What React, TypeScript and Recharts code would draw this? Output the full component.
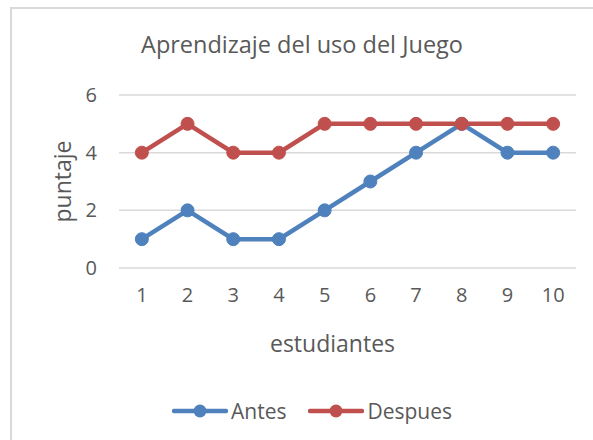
import { LineChart, Line, XAxis, YAxis, CartesianGrid, Legend, Label } from 'recharts'

// Students on the x axis, score before and after the game
const students = [1, 2, 3, 4, 5, 6, 7, 8, 9, 10]
const antes = [1, 2, 1, 1, 2, 3, 4, 5, 4, 4]
const despues = [4, 5, 4, 4, 5, 5, 5, 5, 5, 5]
const yTicks = [0, 2, 4, 6]

const data = students.map((s, i) => ({ student: s, antes: antes[i], despues: despues[i] }))

const BLUE = '#4f81bd'
const RED = '#c0504d'
const TEXT = '#595959'
const FONT = '"Open Sans", sans-serif'

const series = [
  { name: 'Antes', color: BLUE },
  { name: 'Despues', color: RED },
]

function LegendContent() {
  return (
    <div style={{ display: 'flex', alignItems: 'center', fontFamily: FONT, fontSize: 21, color: TEXT }}>
      {series.map((s, i) => (
        <div key={s.name} style={{ display: 'flex', alignItems: 'center', marginLeft: i ? 22 : 0 }}>
          <svg width={56} height={16} style={{ marginRight: 3 }}>
            <line x1={2} y1={8} x2={54} y2={8} stroke={s.color} strokeWidth={4.5} strokeLinecap="round" />
            <circle cx={28} cy={8} r={6.5} fill={s.color} />
          </svg>
          <span>{s.name}</span>
        </div>
      ))}
    </div>
  )
}

export default function App() {
  return (
    <div style={{ position: 'absolute', left: 0, top: 0, width: 593, height: 440, background: '#fff', overflow: 'hidden' }}>
      <div
        style={{
          position: 'absolute',
          left: 10,
          top: 7,
          width: 620,
          height: 480,
          border: '2px solid #d9d9d9',
          boxSizing: 'border-box',
        }}
      />
      <div style={{ position: 'absolute', left: 0, top: 0 }}>
        <LineChart width={593} height={440} data={data} margin={{ top: 95, right: 17, bottom: 142, left: 59 }}>
          <text x={302} y={53} textAnchor="middle" fontFamily={FONT} fontSize={23.5} fill={TEXT}>
            Aprendizaje del uso del Juego
          </text>
          <CartesianGrid vertical={false} stroke="#d9d9d9" strokeWidth={1.5} />
          <XAxis
            dataKey="student"
            type="number"
            domain={[0.5, 10.5]}
            ticks={students}
            axisLine={false}
            tickLine={false}
            tickSize={0}
            tickMargin={20}
            height={30}
            tick={{ fill: TEXT, fontFamily: FONT, fontSize: 20 }}
          >
            <Label value="estudiantes" position="bottom" offset={38} dx={-15} fill={TEXT} fontFamily={FONT} fontSize={23} />
          </XAxis>
          <YAxis
            domain={[0, 6]}
            ticks={yTicks}
            axisLine={false}
            tickLine={false}
            tickSize={0}
            tickMargin={22}
            width={60}
            tick={{ fill: TEXT, fontFamily: FONT, fontSize: 20 }}
          >
            <Label value="puntaje" angle={-90} position="insideLeft" offset={4} textAnchor="middle" fill={TEXT} fontFamily={FONT} fontSize={23} />
          </YAxis>
          <Legend
            verticalAlign="middle"
            align="center"
            layout="horizontal"
            content={<LegendContent />}
            wrapperStyle={{ position: 'absolute', top: 397, left: 172, width: 'auto' }}
          />
          <Line
            dataKey="antes"
            name="Antes"
            stroke={BLUE}
            strokeWidth={4.5}
            dot={{ r: 6.5, fill: BLUE, stroke: BLUE, strokeWidth: 1 }}
            isAnimationActive={false}
          />
          <Line
            dataKey="despues"
            name="Despues"
            stroke={RED}
            strokeWidth={4.5}
            dot={{ r: 6.5, fill: RED, stroke: RED, strokeWidth: 1 }}
            isAnimationActive={false}
          />
        </LineChart>
      </div>
    </div>
  )
}
